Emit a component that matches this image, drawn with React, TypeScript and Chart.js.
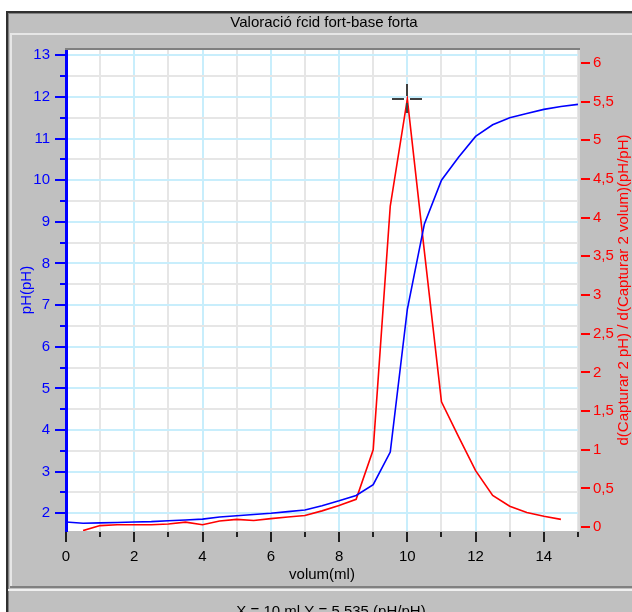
import React, { useEffect, useRef } from 'react';
import Chart from 'chart.js/auto';

const chartTitle = 'Valoració ŕcid fort-base forta';
const statusText = 'X = 10 ml Y = 5,535 (pH/pH)';
const xTitle = 'volum(ml)';
const leftTitle = 'pH(pH)';
const rightTitle = 'd(Capturar 2 pH) / d(Capturar 2 volum)(pH/pH)';

const volume = [0, 0.5, 1, 1.5, 2, 2.5, 3, 3.5, 4, 4.5, 5, 5.5, 6, 6.5, 7, 7.5, 8, 8.5, 9, 9.5, 10, 10.5, 11, 11.5, 12, 12.5, 13, 13.5, 14, 14.5, 15];
const phValues = [1.79, 1.76, 1.77, 1.78, 1.79, 1.8, 1.82, 1.84, 1.86, 1.91, 1.94, 1.97, 2.0, 2.04, 2.08, 2.18, 2.3, 2.43, 2.69, 3.47, 6.9, 8.95, 10.0, 10.55, 11.05, 11.33, 11.5, 11.6, 11.7, 11.77, 11.82];

const derivVolume = [0.5, 1, 1.5, 2, 2.5, 3, 3.5, 4, 4.5, 5, 5.5, 6, 6.5, 7, 7.5, 8, 8.5, 9, 9.5, 10, 10.5, 11, 11.5, 12, 12.5, 13, 13.5, 14, 14.5];
const derivValues = [-0.045, 0.02, 0.03, 0.03, 0.03, 0.04, 0.065, 0.03, 0.08, 0.1, 0.085, 0.11, 0.13, 0.15, 0.21, 0.28, 0.36, 1.0, 4.15, 5.535, 3.56, 1.62, 1.17, 0.73, 0.41, 0.27, 0.19, 0.14, 0.1];

const cursorX = 10;
const cursorY = 5.535;

const FONT = "'Liberation Sans', Arial, sans-serif";
const BLUE = '#0000ff';
const RED = '#ff0000';
const GRID_BLUE = '#c8eefc';
const GRID_GRAY = '#e6e6e6';

const framePlugin = {
  id: 'frame',
  beforeDraw(chart: any) {
    const ctx = chart.ctx;
    const W = chart.width;
    const H = chart.height;
    const a = chart.chartArea;
    ctx.save();
    ctx.fillStyle = '#ffffff';
    ctx.fillRect(0, 0, W, H);
    ctx.fillStyle = '#c0c0c0';
    ctx.fillRect(6, 11, W - 6, H - 11);
    ctx.fillStyle = '#303030';
    ctx.fillRect(6, 11, W - 6, 2);
    ctx.fillRect(6, 11, 2, H - 11);
    ctx.fillStyle = '#808080';
    ctx.fillRect(8, 13, W - 8, 1);
    ctx.fillRect(8, 13, 1, H - 13);
    ctx.fillStyle = '#e6e6e6';
    ctx.fillRect(10, 33, W - 10, 2);
    ctx.fillRect(10, 35, 2, 551);
    ctx.fillStyle = '#808080';
    ctx.fillRect(10, 586, W - 10, 2);
    ctx.fillStyle = '#f0f0f0';
    ctx.fillRect(8, 589, W - 8, 2);
    ctx.fillStyle = '#ffffff';
    ctx.fillRect(a.left, a.top, a.right - a.left, a.bottom - a.top);
    ctx.restore();
  },
  afterDraw(chart: any) {
    const ctx = chart.ctx;
    const a = chart.chartArea;
    const xs = chart.scales.x;
    const ys = chart.scales.y;
    const y1 = chart.scales.y1;
    ctx.save();
    ctx.fillStyle = '#808080';
    ctx.fillRect(a.left - 1, a.top - 1, a.right - a.left + 3, 2);
    ctx.fillStyle = '#dcdcdc';
    ctx.fillRect(a.right, a.top + 1, 2, a.bottom - a.top - 1);
    ctx.fillStyle = '#202020';
    xs.ticks.forEach((t: any) => {
      const px = Math.round(xs.getPixelForValue(t.value));
      const len = t.value % 2 === 0 ? 10 : 5;
      ctx.fillRect(px - 1, a.bottom + 1, 2, len);
    });
    ctx.fillStyle = BLUE;
    ys.ticks.forEach((t: any) => {
      const py = Math.round(ys.getPixelForValue(t.value));
      const len = Number.isInteger(t.value) ? 10 : 5;
      ctx.fillRect(a.left - 1 - len, py - 1, len, 2);
    });
    ctx.fillStyle = RED;
    y1.ticks.forEach((t: any) => {
      const py = Math.round(y1.getPixelForValue(t.value));
      ctx.fillRect(a.right + 3, py - 1, 9, 2);
    });
    ctx.fillStyle = '#000000';
    ctx.font = `15px ${FONT}`;
    ctx.textAlign = 'center';
    ctx.textBaseline = 'middle';
    ctx.fillText(chartTitle, 324, 23);
    ctx.fillText(xTitle, (a.left + a.right) / 2, 575);
    ctx.textBaseline = 'top';
    ctx.fillText(statusText, 331, 604);
    ctx.textBaseline = 'middle';
    const midY = (a.top + a.bottom) / 2;
    ctx.save();
    ctx.translate(27, midY);
    ctx.rotate(-Math.PI / 2);
    ctx.fillStyle = BLUE;
    ctx.fillText(leftTitle, 0, 0);
    ctx.restore();
    ctx.save();
    ctx.translate(624, midY);
    ctx.rotate(-Math.PI / 2);
    ctx.fillStyle = RED;
    ctx.fillText(rightTitle, 0, 0);
    ctx.restore();
    ctx.restore();
  },
  afterDatasetsDraw(chart: any) {
    const ctx = chart.ctx;
    const px = Math.round(chart.scales.x.getPixelForValue(cursorX));
    const py = Math.round(chart.scales.y1.getPixelForValue(cursorY));
    ctx.save();
    ctx.fillStyle = '#404040';
    ctx.fillRect(px - 15, py - 1, 12, 2);
    ctx.fillRect(px + 3, py - 1, 12, 2);
    ctx.fillRect(px - 1, py - 15, 2, 12);
    ctx.fillRect(px - 1, py + 4, 2, 10);
    ctx.restore();
  },
};

export default function App() {
  const ref = useRef<HTMLCanvasElement | null>(null);
  useEffect(() => {
    document.body.style.margin = '0';
    const canvas = ref.current!;
    const chart = new Chart(canvas, {
      type: 'line',
      data: {
        datasets: [
          {
            label: 'pH',
            data: volume.map((v, i) => ({ x: v, y: phValues[i] })),
            borderColor: BLUE,
            borderWidth: 1.6,
            pointRadius: 0,
            tension: 0,
            yAxisID: 'y',
          },
          {
            label: 'dpH/dV',
            data: derivVolume.map((v, i) => ({ x: v, y: derivValues[i] })),
            borderColor: RED,
            borderWidth: 1.6,
            pointRadius: 0,
            tension: 0,
            yAxisID: 'y1',
          },
        ],
      },
      plugins: [framePlugin],
      options: {
        animation: false,
        responsive: false,
        events: [],
        layout: { padding: { top: 49, left: 0, right: 0, bottom: 0 } },
        plugins: { legend: { display: false }, title: { display: false }, tooltip: { enabled: false } },
        scales: {
          x: {
            type: 'linear',
            position: 'bottom',
            min: 0,
            max: 15,
            afterFit: (s: any) => { s.height = 81; },
            border: { display: false },
            grid: {
              drawTicks: false,
              lineWidth: 2,
              color: (c: any) => (c.tick && c.tick.value % 2 === 0 ? GRID_BLUE : GRID_GRAY),
            },
            ticks: {
              stepSize: 1,
              autoSkip: false,
              maxRotation: 0,
              padding: 17,
              color: '#000000',
              font: { family: FONT, size: 15 },
              callback: (v: any) => (Number(v) % 2 === 0 ? String(v) : ''),
            },
          },
          y: {
            type: 'linear',
            position: 'left',
            min: 1.575,
            max: 13.15,
            afterFit: (s: any) => { s.width = 66; },
            border: { display: true, color: BLUE, width: 3 },
            grid: {
              drawTicks: false,
              lineWidth: 2,
              color: (c: any) => (c.tick && Number.isInteger(c.tick.value) ? GRID_BLUE : GRID_GRAY),
            },
            ticks: {
              stepSize: 0.5,
              includeBounds: false,
              autoSkip: false,
              padding: 16,
              color: BLUE,
              font: { family: FONT, size: 15 },
              callback: (v: any) => (Number.isInteger(Number(v)) ? String(v) : ''),
            },
          },
          y1: {
            type: 'linear',
            position: 'right',
            min: -0.05,
            max: 6.18,
            afterFit: (s: any) => { s.width = 54; },
            border: { display: false },
            grid: { display: false, drawTicks: false },
            ticks: {
              stepSize: 0.5,
              includeBounds: false,
              autoSkip: false,
              padding: 15,
              color: RED,
              font: { family: FONT, size: 15 },
              callback: (v: any) => String(v).replace('.', ','),
            },
          },
        },
      },
    });
    return () => chart.destroy();
  }, []);
  return <canvas ref={ref} width={632} height={612} style={{ display: 'block' }} />;
}
